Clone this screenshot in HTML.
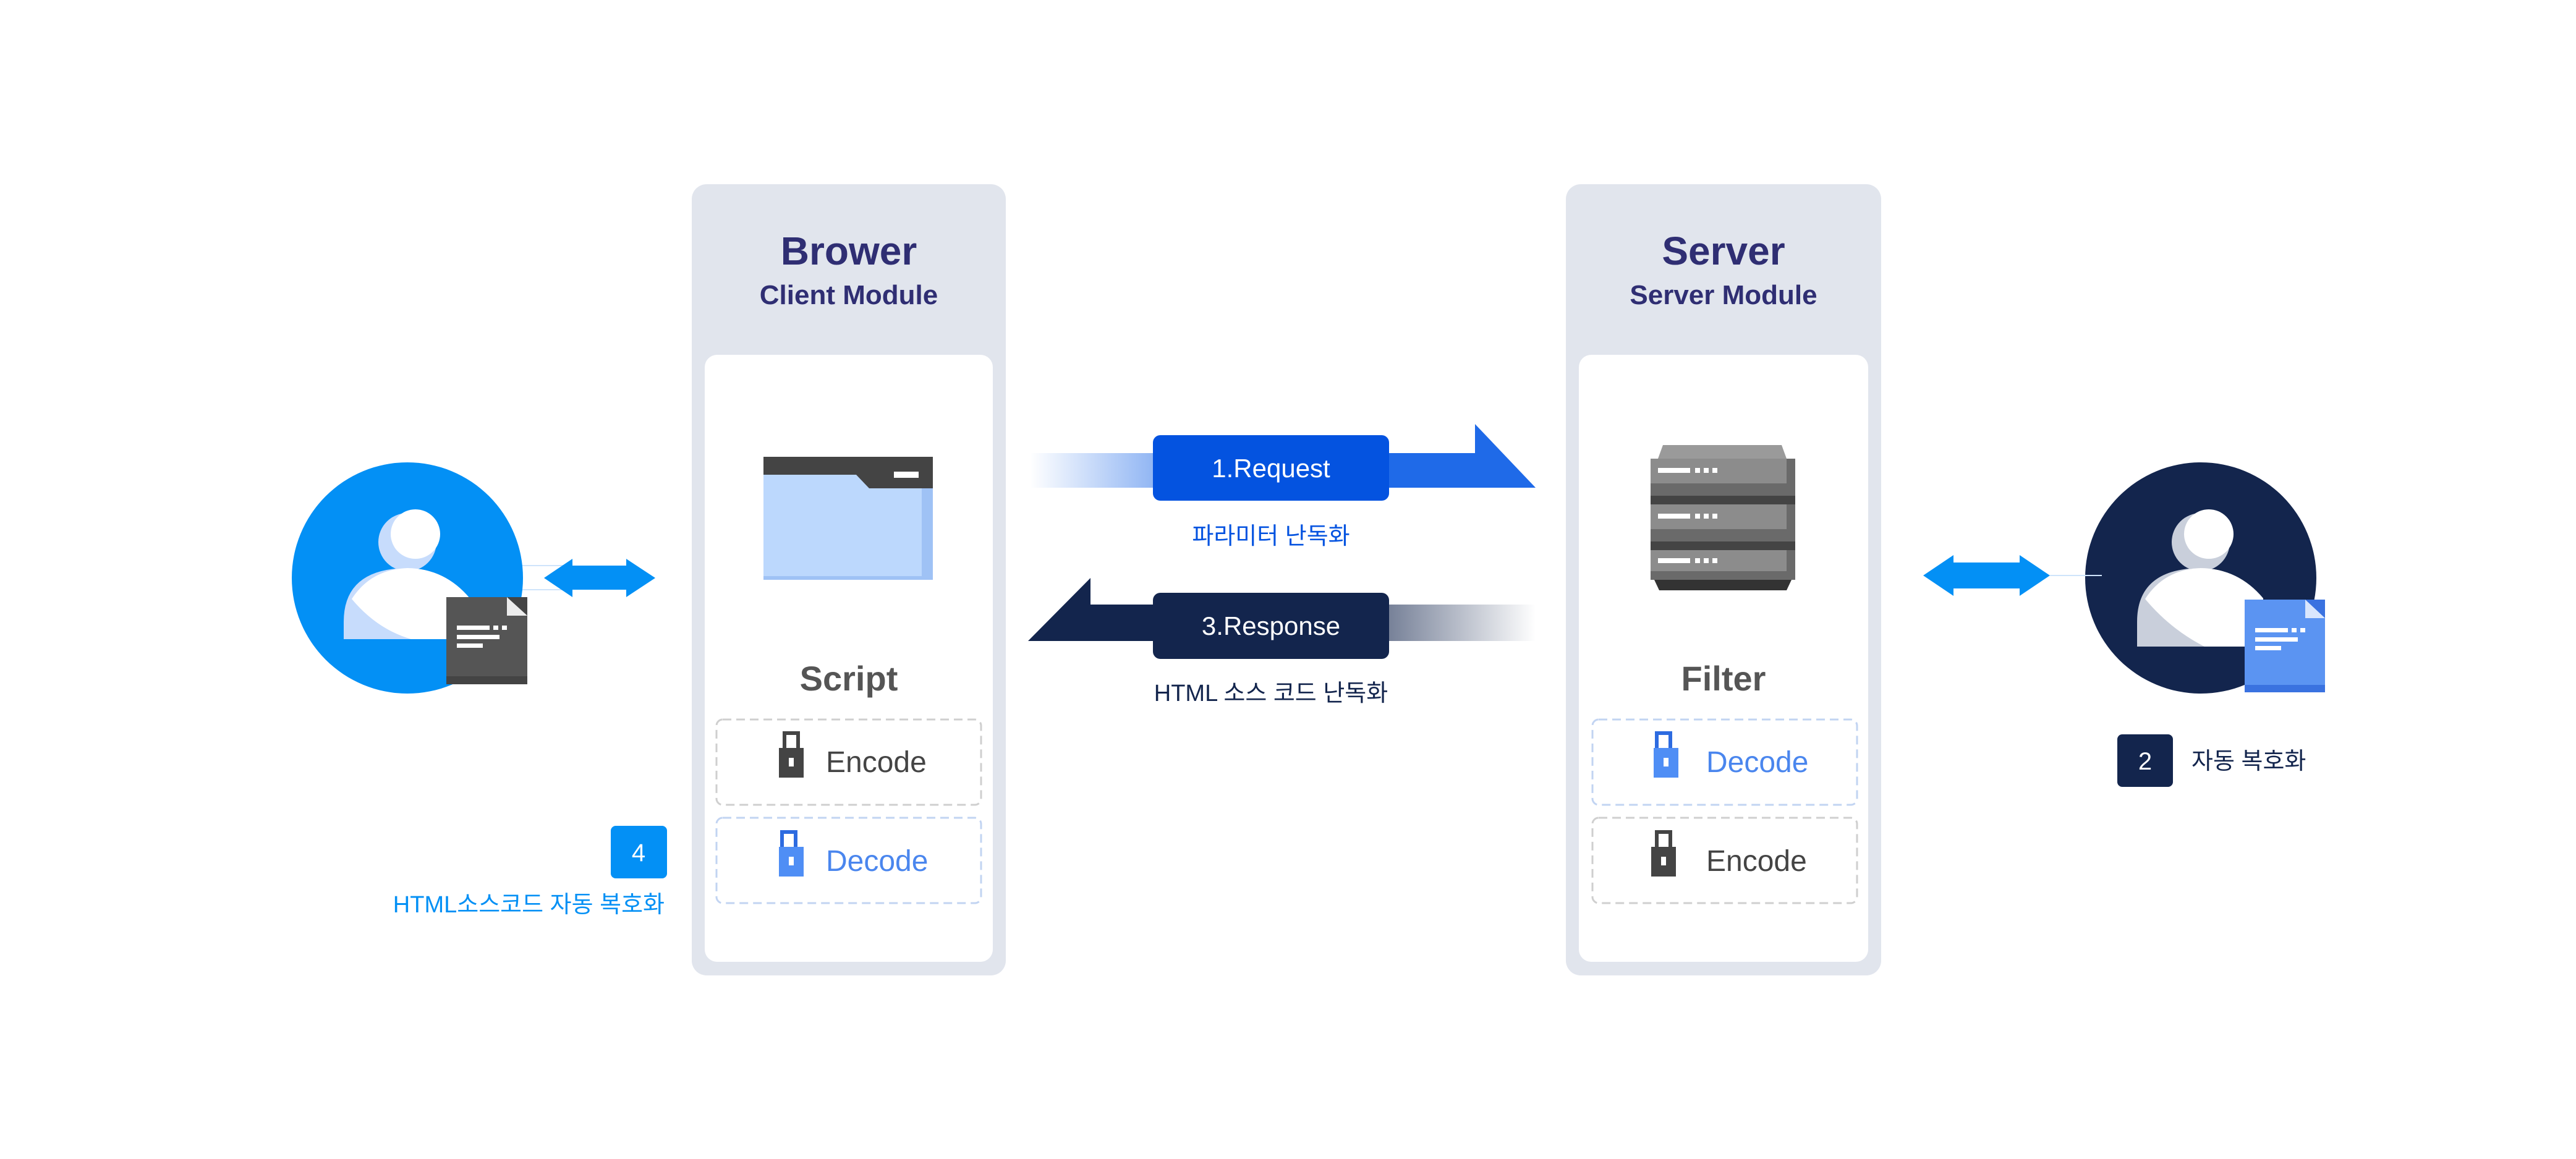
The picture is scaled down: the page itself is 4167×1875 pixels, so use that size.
<!DOCTYPE html>
<html><head><meta charset="utf-8"><style>
html,body{margin:0;padding:0;background:#fff}
svg{display:block}
text{font-family:"Liberation Sans","Noto Sans CJK KR",sans-serif}
</style></head><body>
<svg width="4167" height="1875" viewBox="0 0 4167 1875" xmlns="http://www.w3.org/2000/svg">
<defs>
<linearGradient id="reqg" x1="1666" y1="0" x2="2484" y2="0" gradientUnits="userSpaceOnUse">
<stop offset="0" stop-color="#1f6ae8" stop-opacity="0"/><stop offset="0.25" stop-color="#1f6ae8" stop-opacity="0.5"/><stop offset="0.5" stop-color="#1f6ae8"/><stop offset="1" stop-color="#1f6ae8"/></linearGradient>
<linearGradient id="resg" x1="1663" y1="0" x2="2484" y2="0" gradientUnits="userSpaceOnUse">
<stop offset="0" stop-color="#13254d"/><stop offset="0.5" stop-color="#13254d"/><stop offset="0.75" stop-color="#13254d" stop-opacity="0.5"/><stop offset="1" stop-color="#13254d" stop-opacity="0"/></linearGradient>
</defs>

<!-- Browser panel -->
<rect x="1119" y="298" width="508" height="1280" rx="24" fill="#e1e5ed"/>
<rect x="1140" y="574" width="466" height="982" rx="20" fill="#fff"/>
<text x="1373" y="428" text-anchor="middle" font-size="64" font-weight="bold" fill="#2f2e73">Brower</text>
<text x="1373" y="492" text-anchor="middle" font-size="44" font-weight="bold" fill="#2f2e73">Client Module</text>
<rect x="1235" y="739" width="274" height="199" fill="#9fc2f5"/>
<rect x="1235" y="760" width="256" height="172" fill="#bcd8fd"/>
<path d="M1235 739 H1509 V790 H1406 L1385 768 H1235 Z" fill="#444"/>
<rect x="1446" y="763" width="40" height="10" fill="#fff"/>
<text x="1373" y="1117" text-anchor="middle" font-size="56" font-weight="bold" fill="#555">Script</text>
<rect x="1159" y="1164" width="428" height="138" rx="10" fill="none" stroke="#cfcfcf" stroke-width="3" stroke-dasharray="14 8"/>
<rect x="1159" y="1323" width="428" height="138" rx="10" fill="none" stroke="#c2d4f2" stroke-width="3" stroke-dasharray="14 8"/>
<path d="M1269 1210 V1186 H1291 V1210" fill="none" stroke="#444" stroke-width="6"/>
<rect x="1260" y="1210" width="40" height="48" fill="#444"/>
<rect x="1276" y="1226" width="8" height="14" fill="#fff"/>
<text x="1336" y="1249" font-size="48" fill="#444">Encode</text>
<path d="M1265 1370 V1346 H1287 V1370" fill="none" stroke="#2d6be0" stroke-width="6"/>
<rect x="1260" y="1370" width="40" height="48" fill="#4f8ef5"/>
<rect x="1276" y="1386" width="8" height="14" fill="#fff"/>
<text x="1336" y="1409" font-size="48" fill="#4a86ee">Decode</text>

<!-- Server panel -->
<rect x="2533" y="298" width="510" height="1280" rx="24" fill="#e1e5ed"/>
<rect x="2554" y="574" width="468" height="982" rx="20" fill="#fff"/>
<text x="2788" y="428" text-anchor="middle" font-size="64" font-weight="bold" fill="#2f2e73">Server</text>
<text x="2788" y="492" text-anchor="middle" font-size="44" font-weight="bold" fill="#2f2e73">Server Module</text>
<path d="M2690 720 H2882 L2890 742 H2682 Z" fill="#9a9a9a"/>
<rect x="2670" y="742" width="234" height="60" fill="#6a6a6a"/><rect x="2670" y="742" width="220" height="40" fill="#8c8c8c"/>
<rect x="2670" y="802" width="234" height="14" fill="#444"/>
<rect x="2670" y="816" width="234" height="60" fill="#6a6a6a"/><rect x="2670" y="816" width="220" height="40" fill="#8c8c8c"/>
<rect x="2670" y="876" width="234" height="14" fill="#444"/>
<rect x="2670" y="890" width="234" height="48" fill="#6a6a6a"/><rect x="2670" y="890" width="220" height="34" fill="#8c8c8c"/>
<path d="M2676 938 H2898 L2890 955 H2684 Z" fill="#333"/>
<g fill="#fff"><rect x="2682" y="757" width="52" height="8"/><rect x="2742" y="757" width="8" height="8"/><rect x="2756" y="757" width="8" height="8"/><rect x="2770" y="757" width="8" height="8"/>
<rect x="2682" y="831" width="52" height="8"/><rect x="2742" y="831" width="8" height="8"/><rect x="2756" y="831" width="8" height="8"/><rect x="2770" y="831" width="8" height="8"/>
<rect x="2682" y="903" width="52" height="8"/><rect x="2742" y="903" width="8" height="8"/><rect x="2756" y="903" width="8" height="8"/><rect x="2770" y="903" width="8" height="8"/></g>
<text x="2788" y="1117" text-anchor="middle" font-size="56" font-weight="bold" fill="#555">Filter</text>
<rect x="2576" y="1164" width="428" height="138" rx="10" fill="none" stroke="#c2d4f2" stroke-width="3" stroke-dasharray="14 8"/>
<rect x="2576" y="1323" width="428" height="138" rx="10" fill="none" stroke="#cfcfcf" stroke-width="3" stroke-dasharray="14 8"/>
<path d="M2680 1210 V1186 H2702 V1210" fill="none" stroke="#2d6be0" stroke-width="6"/>
<rect x="2675" y="1210" width="40" height="48" fill="#4f8ef5"/>
<rect x="2691" y="1226" width="8" height="14" fill="#fff"/>
<text x="2760" y="1249" font-size="48" fill="#4a86ee">Decode</text>
<path d="M2680 1370 V1346 H2702 V1370" fill="none" stroke="#444" stroke-width="6"/>
<rect x="2671" y="1370" width="40" height="48" fill="#444"/>
<rect x="2687" y="1386" width="8" height="14" fill="#fff"/>
<text x="2760" y="1409" font-size="48" fill="#444">Encode</text>

<!-- Request arrow -->
<path d="M1666 733 H2386 V686 L2484 789 H1666 Z" fill="url(#reqg)"/>
<rect x="1865" y="704" width="382" height="106" rx="12" fill="#0453e0"/>
<text x="2056" y="772" text-anchor="middle" font-size="42" fill="#fff">1.Request</text>
<text x="2056" y="880" text-anchor="middle" font-size="38" fill="#0453e0">파라미터 난독화</text>
<!-- Response arrow -->
<path d="M2484 978 H1764 V935 L1663 1037 H2484 Z" fill="url(#resg)"/>
<rect x="1865" y="959" width="382" height="107" rx="12" fill="#13254d"/>
<text x="2056" y="1027" text-anchor="middle" font-size="42" fill="#fff">3.Response</text>
<text x="2056" y="1134" text-anchor="middle" font-size="38" fill="#13254d">HTML 소스 코드 난독화</text>

<!-- Left user -->
<g transform="translate(0,28)">
<circle cx="659" cy="907" r="187" fill="#0390f5"/>
<circle cx="659" cy="849" r="47" fill="#c7dcfc"/>
<circle cx="672" cy="836" r="40" fill="#fff"/>
<path d="M556 1006 V978 Q556 892 659 891 Q720 892 760 940 V1006 Z" fill="#c7dcfc"/>
<path d="M569 941 Q600 893 659 891 Q720 892 760 940 V1006 H665 Q610 990 569 941 Z" fill="#fff"/>
<line x1="845" y1="887" x2="920" y2="887" stroke="#cfe4fb" stroke-width="2"/>
<line x1="845" y1="926" x2="920" y2="926" stroke="#cfe4fb" stroke-width="2"/>
<rect x="722" y="938" width="131" height="141" fill="#444"/>
<path d="M722 938 H820 L853 968 V1066 H722 Z" fill="#555"/>
<path d="M820 938 L853 968 H820 Z" fill="#ececec"/>
<g fill="#fff"><rect x="739" y="984" width="53" height="7"/><rect x="798" y="984" width="8" height="7"/><rect x="812" y="984" width="8" height="7"/><rect x="739" y="999" width="69" height="7"/><rect x="739" y="1013" width="42" height="7"/></g>
<path d="M880 907 L926 876 V887 H1013 V876 L1060 907 L1013 938 V926 H926 V938 Z" fill="#0390f5"/>
</g>

<!-- Right user -->
<g transform="translate(0,28)">
<circle cx="3560" cy="907" r="187" fill="#13254d"/>
<circle cx="3560" cy="849" r="47" fill="#c9cfdb"/>
<circle cx="3573" cy="836" r="40" fill="#fff"/>
<path d="M3457 1018 V978 Q3457 892 3560 891 Q3621 892 3661 940 V1018 Z" fill="#c9cfdb"/>
<path d="M3470 941 Q3501 893 3560 891 Q3621 892 3661 940 V1018 H3566 Q3511 990 3470 941 Z" fill="#fff"/>
<line x1="3316" y1="903" x2="3400" y2="903" stroke="#cfe4fb" stroke-width="2"/>
</g>
<rect x="3631" y="970" width="130" height="150" fill="#3a72e0"/>
<path d="M3631 970 H3729 L3761 1000 V1108 H3631 Z" fill="#5b94f2"/>
<path d="M3729 970 L3761 1000 H3729 Z" fill="#d9e6fd"/>
<g fill="#fff"><rect x="3648" y="1016" width="53" height="7"/><rect x="3707" y="1016" width="8" height="7"/><rect x="3721" y="1016" width="8" height="7"/><rect x="3648" y="1031" width="69" height="7"/><rect x="3648" y="1045" width="42" height="7"/></g>
<path d="M3111 931 L3160 898 V910 H3267 V898 L3316 931 L3267 964 V952 H3160 V964 Z" fill="#0390f5"/>

<!-- badges -->
<rect x="3425" y="1188" width="90" height="85" rx="8" fill="#13254d"/>
<text x="3470" y="1245" text-anchor="middle" font-size="40" fill="#fff">2</text>
<text x="3545" y="1244" font-size="38" fill="#13254d">자동 복호화</text>
<rect x="988" y="1336" width="91" height="85" rx="8" fill="#0390f5"/>
<text x="1033" y="1393" text-anchor="middle" font-size="40" fill="#fff">4</text>
<text x="1075" y="1476" text-anchor="end" font-size="38" fill="#0390f5">HTML소스코드 자동 복호화</text>
</svg>
</body></html>
